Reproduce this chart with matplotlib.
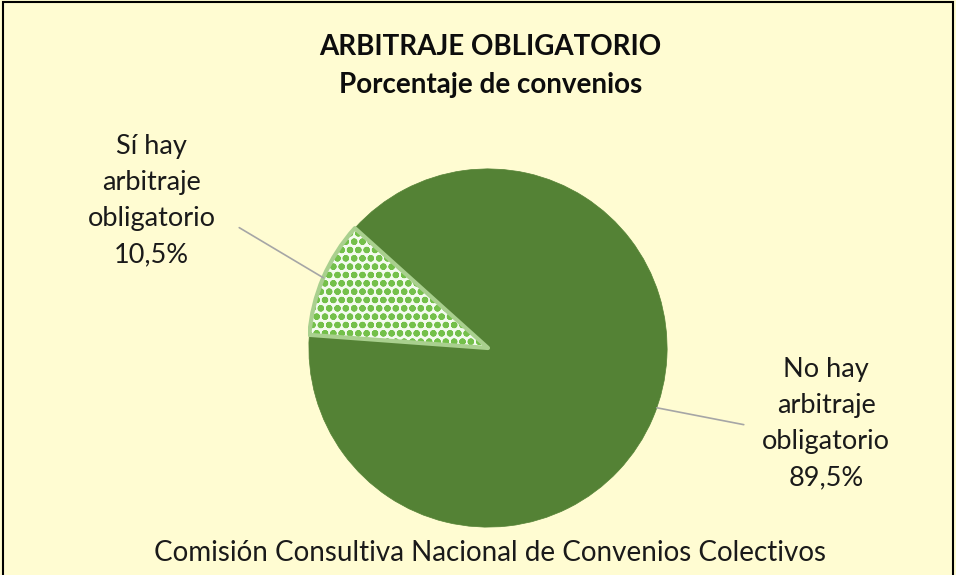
import matplotlib.pyplot as plt
import matplotlib.patches as mpatches
import numpy as np

labels = ['Sí hay\narbitraje\nobligatorio\n10,5%', 'No hay\narbitraje\nobligatorio\n89,5%']
values = [10.5, 89.5]
title = 'ARBITRAJE OBLIGATORIO'
subtitle = 'Porcentaje de convenios'
source = 'Comisión Consultiva Nacional de Convenios Colectivos'

bg = '#FFFCD2'
plt.rcParams['font.family'] = ['Lato', 'DejaVu Sans']
plt.rcParams['hatch.linewidth'] = 2.2

fig = plt.figure(figsize=(9.56, 5.75), dpi=100, facecolor=bg)

# pie centre (488, 348) px, radius 180 px
W, H = 956, 575
cx, cy, r = 488, 348, 180
ax = fig.add_axes([(cx - r) / W, (H - cy - r) / H, 2 * r / W, 2 * r / H])
ax.set_facecolor(bg)

wedges, _ = ax.pie(values, startangle=138, counterclock=True,
                   colors=['#F4FBEF', '#548235'])
wedges[0].set_hatch('oo')
wedges[0].set_edgecolor('#74C04A')
wedges[0].set_linewidth(0)
wedges[1].set_edgecolor('#548235')
wedges[1].set_linewidth(0.5)
# light green outline of the small slice
w0 = wedges[0]
outline = mpatches.Wedge((0, 0), 1, w0.theta1, w0.theta2, fill=False,
                         edgecolor='#A9D08E', linewidth=3, joinstyle='round')
ax.add_patch(outline)
ax.set_xlim(-1.005, 1.005)
ax.set_ylim(-1.005, 1.005)
ax.set_aspect('equal')
for w in wedges:
    w.set_clip_on(False)

# labels with leader lines
lab_pos = [(-1.878, 0.822), (1.889, -0.422)]
line_end = [(-1.389, 0.672), (1.428, -0.428)]
for w, lab, pos, end in zip(wedges, labels, lab_pos, line_end):
    ang = np.deg2rad((w.theta1 + w.theta2) / 2)
    if w is wedges[1]:
        ang = np.deg2rad(-19.5)
    ax.annotate('', xy=(np.cos(ang), np.sin(ang)), xytext=end,
                arrowprops=dict(arrowstyle='-', color='#A6A6A6', lw=1.2,
                                shrinkA=0, shrinkB=0), annotation_clip=False)
    ax.text(pos[0], pos[1], lab, ha='center', va='center', fontsize=19.5,
            linespacing=1.55, color='#1A1A1A', clip_on=False)

fig.text(0.513, 1 - 47 / H, title, ha='center', va='center', fontsize=20,
         fontweight='bold', color='#0D0D0D')
fig.text(0.513, 1 - 85 / H, subtitle, ha='center', va='center', fontsize=20,
         fontweight='bold', color='#0D0D0D')
fig.text(0.513, 1 - 553 / H, source, ha='center', va='center', fontsize=20,
         color='#1A1A1A')

# chart border (bottom edge is cut off)
fig.add_artist(mpatches.Rectangle((2.5 / W, -0.1), 950 / W, 1.1 - 2.5 / H,
                                  transform=fig.transFigure, fill=False,
                                  edgecolor='black', linewidth=1.5))

fig.savefig('out.png', dpi=100, facecolor=bg)
